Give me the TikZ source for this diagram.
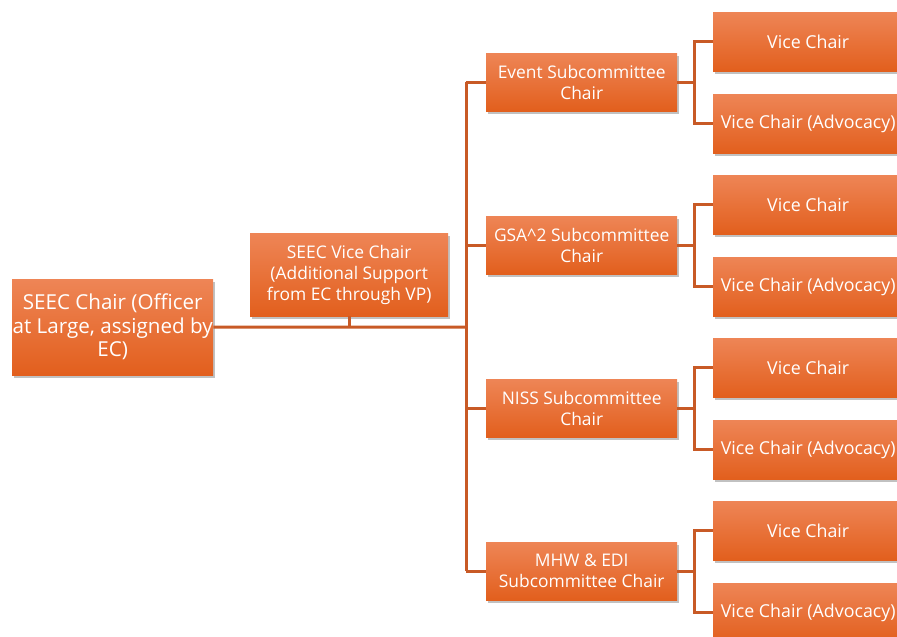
\documentclass[tikz,border=0pt]{standalone}
\usepackage{fontspec}
\setmainfont{Open Sans}
\usetikzlibrary{shadows,calc}
\definecolor{linec}{HTML}{C85A26}
\definecolor{topc}{HTML}{EE8556}
\definecolor{botc}{HTML}{E25F1D}
\tikzset{
  box/.style={rectangle, top color=topc, bottom color=botc, draw=none, text=white,
    align=center, inner sep=0pt, anchor=north west,
    drop shadow={shadow xshift=1.5pt, shadow yshift=-3pt, opacity=0.35, fill=black!70}},
  conn/.style={draw=linec, line width=3pt},
  bigtxt/.style={font=\fontsize{20.6}{23.5}\selectfont},
  midtxt/.style={font=\fontsize{17.4}{21}\selectfont},
  rtxt/.style={font=\fontsize{17.8}{21}\selectfont},
}
\begin{document}
\begin{tikzpicture}[x=1pt,y=-1pt]
\useasboundingbox (0,0) rectangle (897,637);
\clip (0,0) rectangle (897,637);
% main boxes
\node[box, bigtxt, minimum width=201pt, minimum height=96pt] (L) at (12,279) {SEEC Chair (Officer\\at Large, assigned by\\EC)};
\node[box, midtxt, minimum width=198pt, minimum height=83pt] (V) at (250,233) {SEEC Vice Chair\\(Additional Support\\from EC through VP)};
\node[box, midtxt, minimum width=191pt, minimum height=58pt] (S1) at (486,53) {Event Subcommittee\\Chair};
\node[box, midtxt, minimum width=191pt, minimum height=58pt] (S2) at (486,216) {GSA\^{}2 Subcommittee\\Chair};
\node[box, midtxt, minimum width=191pt, minimum height=58pt] (S3) at (486,379) {NISS Subcommittee\\Chair};
\node[box, midtxt, minimum width=191pt, minimum height=58pt] (S4) at (486,542) {MHW \& EDI\\Subcommittee Chair};
% right boxes
\foreach \i/\y in {1/12,2/175,3/338,4/501}{
  \node[box, rtxt, minimum width=190pt, minimum height=59pt] (VC\i) at (713,\y) {Vice Chair};
  \node[box, rtxt, minimum width=190pt, minimum height=59pt] (AD\i) at (713,\y+82) {Vice Chair (Advocacy)};
}
% connectors
\coordinate (bus) at (466,327);
\draw[conn] (L.east) -- (bus);
\draw[conn] (V.south) -- (V.south |- bus);
\draw[conn] (bus |- S1.west) -- (bus |- S4.west);
\foreach \i in {1,2,3,4}{
  \draw[conn] (bus |- S\i.west) -- (S\i.west);
  \coordinate (br\i) at ($(S\i.east)+(17,0)$);
  \draw[conn] (S\i.east) -- (br\i);
  \draw[conn] (VC\i.west) -| (br\i) |- (AD\i.west);
}
\end{tikzpicture}
\end{document}
